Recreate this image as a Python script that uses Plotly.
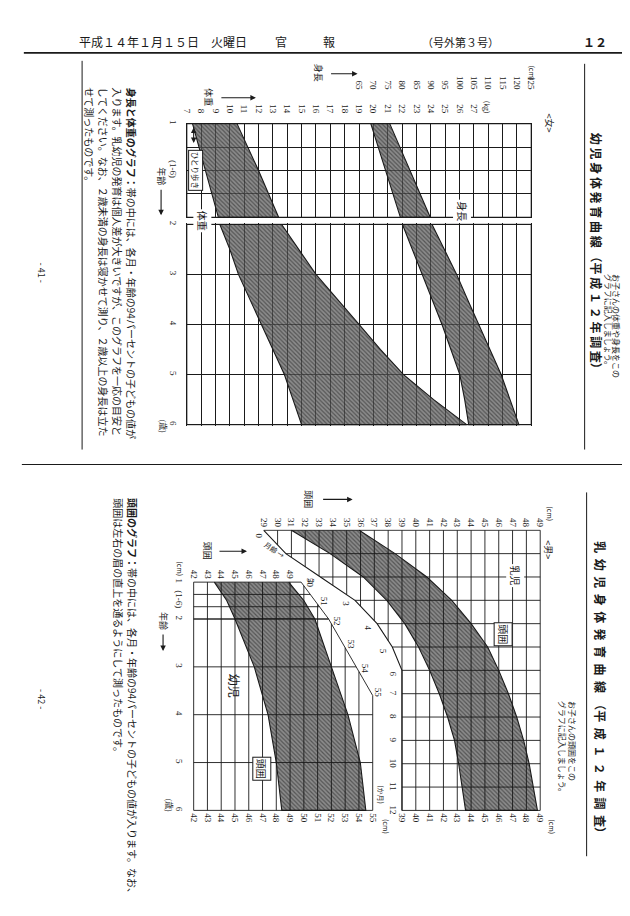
import plotly.graph_objects as go
import numpy as np

W, H = 630, 916
def fx(p): return p / W
def fy(p): return 1 - p / H
JP = "Noto Sans CJK JP"
NUM = "Liberation Serif"
INK = "#1a1a1a"

# ---------------- top chart: girls 1-6 years, weight & height ----------------
age_a = [1.0, 1.5, 2.0]                      # lying length section
wt_lo_a = [7.4, 8.3, 9.2]
wt_hi_a = [10.5, 12.0, 13.4]
ht_lo_a = [69.1, 74.3, 79.4]
ht_hi_a = [75.7, 82.8, 89.8]
age_b = [2.0, 2.5, 3.0, 3.5, 4.0, 4.5, 5.0, 5.5, 6.0]   # standing section
wt_lo_b = [9.3, 10.0, 10.6, 11.4, 12.2, 13.0, 13.8, 14.4, 15.0]
wt_hi_b = [13.6, 14.8, 16.0, 17.5, 19.0, 20.5, 22.1, 24.2, 26.5]
ht_lo_b = [80.1, 83.6, 87.0, 90.5, 93.9, 97.0, 100.1, 101.8, 103.2]
ht_hi_b = [90.4, 94.8, 99.0, 102.8, 106.6, 110.6, 114.5, 117.6, 120.7]
wt_grid = list(range(7, 32))
wt_labels = [str(v) if v <= 27 else "" for v in wt_grid]
ht_ticks = list(range(65, 126, 5))
rows_a = [1.0, 1.25, 1.5, 1.75, 2.0]
rows_a_txt = ["1", "", "(1-6)", "", ""]
rows_b = [2, 3, 4, 5, 6]

# ---------------- bottom chart: boys head circumference ----------------
inf_m = list(range(13))
inf_lo = [31.0, 33.8, 36.2, 37.9, 39.2, 40.2, 41.0, 41.7, 42.3, 42.8, 43.1, 43.35, 43.6]
inf_hi = [35.9, 38.5, 40.8, 42.6, 44.0, 45.2, 46.0, 46.7, 47.3, 47.8, 48.2, 48.5, 48.8]
inf_edge_m = [0, 1, 2, 3, 4, 5, 6, 12]
inf_edge_cm = [29.0, 30.6, 33.1, 35.6, 37.2, 38.3, 39.0, 39.0]
inf_cm_top = list(range(29, 50))
inf_cm_bottom = list(range(39, 50))
inf_month_lbl = [2, 3, 4, 5, 6, 7, 8, 9, 10, 11, 12]

tod_age_a = [1.0, 1.5, 2.0]
tod_lo_a = [43.5, 44.4, 45.0]
tod_hi_a = [48.9, 50.0, 50.8]
tod_age_b = [2.0, 3.0, 4.0, 5.0, 6.0]
tod_lo_b = [45.0, 46.4, 47.4, 48.0, 48.4]
tod_hi_b = [50.8, 52.0, 53.2, 54.1, 54.5]
tod_edge_age = [1.0, 3.6, 6.0]
tod_edge_cm = [49.8, 55.0, 55.0]
tod_rows_a = [1.0, 4 / 3, 5 / 3, 2.0]
tod_rows_b = [2, 3, 4, 5, 6]
tod_cm_top = list(range(42, 50))
tod_cm_diag = list(range(50, 56))
tod_cm_bottom = list(range(42, 56))
tod_cm_grid = list(range(42, 56))


def hdom(v0, v1, p0, s, pad):
    a, b = v0 - pad, v1 + pad
    return [a, b], [fx(p0 + (a - v0) * s), fx(p0 + (b - v0) * s)]


def vdom(v0, v1, p0, s, pad):
    a, b = v0 - pad, v1 + pad
    return [b, a], [fy(p0 + (b - v0) * s), fy(p0 + (a - v0) * s)]


FILL = "rgba(95,95,95,0.72)"
PAT = dict(shape="\\", fgcolor="#202020", bgcolor=FILL, size=3, solidity=0.4)


def band(lo, hi, ys, xa, ya):
    return go.Scatter(x=list(lo) + list(hi)[::-1], y=list(ys) + list(ys)[::-1],
                      fill="toself", fillpattern=PAT, fillcolor=FILL,
                      mode="lines", line=dict(color=INK, width=1.1), xaxis=xa, yaxis=ya,
                      hoverinfo="skip")


def segs_trace(segs, xa, ya, width=0.9):
    xs, ys = [], []
    for x0, y0, x1, y1 in segs:
        xs += [x0, x1, None]
        ys += [y0, y1, None]
    return go.Scatter(x=xs, y=ys, mode="lines", line=dict(color=INK, width=width),
                      xaxis=xa, yaxis=ya, hoverinfo="skip")


fig = go.Figure()

# ---- axes geometry ----
xr_w, xd_w = hdom(7, 31, 177, 14.54, 0.08)
xr_h = [65 + (xr_w[0] - 19) * 5, 65 + (xr_w[1] - 19) * 5]
yr_a, yd_a = vdom(1, 2, 113, 94, 0.01)
yr_b, yd_b = vdom(2, 6, 214, 50.25, 0.02)

xr_i, xd_i = hdom(29, 49, 255, 14.0, 0.1)
yr_i, yd_i = vdom(0, 12, 521, 23.42, 0.05)
xr_t, xd_t = hdom(42, 55, 184, 13.95, 0.1)
yr_ta, yd_ta = vdom(1, 2, 573, 37, 0.03)
yr_tb, yd_tb = vdom(2, 6, 610, 48, 0.02)

# ---- top bands ----
fig.add_trace(band(wt_lo_a, wt_hi_a, age_a, "x", "y"))
fig.add_trace(band(wt_lo_b, wt_hi_b, age_b, "x", "y2"))
fig.add_trace(band(ht_lo_a, ht_hi_a, age_a, "x2", "y"))
fig.add_trace(band(ht_lo_b, ht_hi_b, age_b, "x2", "y2"))

# ---- infant head band + grid ----
fig.add_trace(band(inf_lo, inf_hi, inf_m, "x3", "y3"))
ie_m = np.array(inf_edge_m[:7], float)
ie_c = np.array(inf_edge_cm[:7], float)
segs = []
for c in inf_cm_top:
    m_end = 12.0 if c >= ie_c[-1] else float(np.interp(c, ie_c, ie_m))
    if m_end > 0:
        segs.append((c, 0, c, m_end))
for m in inf_m:
    c0 = float(np.interp(m, inf_edge_m, inf_edge_cm))
    segs.append((c0, m, 49, m))
fig.add_trace(segs_trace(segs, "x3", "y3"))
fig.add_trace(go.Scatter(x=inf_edge_cm, y=inf_edge_m, mode="lines", line=dict(color=INK, width=1.1),
                         xaxis="x3", yaxis="y3", hoverinfo="skip"))
fig.add_trace(go.Scatter(x=inf_cm_bottom, y=[12] * len(inf_cm_bottom), mode="markers",
                         marker=dict(opacity=0), xaxis="x4", yaxis="y3", hoverinfo="skip"))

# ---- toddler head band + grid ----
fig.add_trace(band(tod_lo_a, tod_hi_a, tod_age_a, "x5", "y4"))
fig.add_trace(band(tod_lo_b, tod_hi_b, tod_age_b, "x5", "y5"))
te_a = np.array(tod_edge_age[:2], float)
te_c = np.array(tod_edge_cm[:2], float)
sa, sb = [], []
for c in tod_cm_grid:
    a0 = 1.0 if c <= te_c[0] else float(np.interp(c, te_c, te_a))
    if a0 < 2:
        sa.append((c, a0, c, 2))
        sb.append((c, 2, c, 6))
    else:
        sb.append((c, a0, c, 6))
for a in tod_rows_a:
    sa.append((42, a, float(np.interp(a, tod_edge_age, tod_edge_cm)), a))
for a in tod_rows_b:
    sb.append((42, a, float(np.interp(a, tod_edge_age, tod_edge_cm)), a))
c2 = float(np.interp(2, tod_edge_age, tod_edge_cm))
sa.append((tod_edge_cm[0], tod_edge_age[0], c2, 2))
sb.append((c2, 2, tod_edge_cm[1], tod_edge_age[1]))
fig.add_trace(segs_trace(sa, "x5", "y4"))
fig.add_trace(segs_trace(sb, "x5", "y5"))
fig.add_trace(go.Scatter(x=tod_cm_bottom, y=[6] * len(tod_cm_bottom), mode="markers",
                         marker=dict(opacity=0), xaxis="x6", yaxis="y5", hoverinfo="skip"))

# ---- layout axes ----
tf = dict(size=9, family=NUM, color=INK)
base = dict(zeroline=False, showline=False, ticks="", tickfont=tf, fixedrange=True)
fig.update_layout(
    xaxis=dict(base, domain=xd_w, range=xr_w, side="top", anchor="free", position=fy(104),
               tickvals=wt_grid, ticktext=wt_labels, tickangle=90, showgrid=True,
               gridcolor=INK, gridwidth=0.9),
    xaxis2=dict(base, overlaying="x", domain=xd_w, range=xr_h, side="top", anchor="free",
                position=fy(80), tickvals=ht_ticks, tickangle=90, showgrid=False),
    yaxis=dict(base, domain=yd_a, range=yr_a, anchor="x", tickvals=rows_a, ticktext=rows_a_txt,
               tickangle=90, showgrid=True, gridcolor=INK, gridwidth=0.9, ticklabelstandoff=6),
    yaxis2=dict(base, domain=yd_b, range=yr_b, anchor="x", tickvals=rows_b,
                ticktext=[str(v) for v in rows_b], tickangle=90, showgrid=True, gridcolor=INK,
                gridwidth=0.9, ticklabelstandoff=6),
    xaxis3=dict(base, domain=xd_i, range=xr_i, side="top", anchor="free", position=fy(519),
                tickvals=inf_cm_top, tickangle=90, showgrid=False),
    xaxis4=dict(base, overlaying="x3", domain=xd_i, range=xr_i, side="bottom", anchor="free",
                position=fy(804), tickvals=inf_cm_bottom, tickangle=90, showgrid=False),
    yaxis3=dict(base, domain=yd_i, range=yr_i, anchor="x3", showticklabels=False, showgrid=False),
    xaxis5=dict(base, domain=xd_t, range=xr_t, side="top", anchor="free", position=fy(571),
                tickvals=tod_cm_top, tickangle=90, showgrid=False),
    xaxis6=dict(base, overlaying="x5", domain=xd_t, range=xr_t, side="bottom", anchor="free",
                position=fy(804), tickvals=tod_cm_bottom, tickangle=90, showgrid=False),
    yaxis4=dict(base, domain=yd_ta, range=yr_ta, anchor="x5", tickvals=[1, 1.5],
                ticktext=["1", "(1-6)"], tickangle=90, showgrid=False, ticklabelstandoff=6),
    yaxis5=dict(base, domain=yd_tb, range=yr_tb, anchor="x5", tickvals=tod_rows_b,
                ticktext=[str(v) for v in tod_rows_b], tickangle=90, showgrid=False,
                ticklabelstandoff=6),
)

# ---- shapes: frames and page rules ----
shapes = [
    dict(type="rect", xref="x", yref="y", x0=7, x1=31, y0=1, y1=2, line=dict(color=INK, width=1.2)),
    dict(type="rect", xref="x", yref="y2", x0=7, x1=31, y0=2, y1=6, line=dict(color=INK, width=1.2)),
]
def pline(x0, y0, x1, y1, w=1.0):
    shapes.append(dict(type="line", xref="paper", yref="paper", x0=fx(x0), y0=fy(y0), x1=fx(x1),
                       y1=fy(y1), line=dict(color=INK, width=w)))
pline(12, 42, 621, 42, 1.6)
pline(71, 50, 71, 440)
pline(580, 53, 580, 440)
pline(10, 455, 620, 455, 1.0)
pline(582, 483, 582, 848)

# ---- annotations ----
ann = []
def txt(s, x, y, size=10, angle=90, bold=False, xa="center", ya="middle", bg=None, border=None,
        family=JP, xref="paper", yref="paper", xshift=0, yshift=0):
    d = dict(text=f"<b>{s}</b>" if bold else s, showarrow=False, textangle=angle,
             font=dict(size=size, family=family, color=INK), xanchor=xa, yanchor=ya,
             xref=xref, yref=yref, xshift=xshift, yshift=yshift)
    d["x"] = fx(x) if xref == "paper" else x
    d["y"] = fy(y) if yref == "paper" else y
    if bg:
        d["bgcolor"] = bg
    if border:
        d["bordercolor"] = border
        d["borderwidth"] = 1
        d["borderpad"] = 1
    ann.append(d)

def arrow(x0, y0, x1, y1, both=False):
    d = dict(x=fx(x1), y=fy(y1), xref="paper", yref="paper", ax=x0 - x1, ay=y0 - y1,
             showarrow=True, arrowhead=2, arrowsize=1, arrowwidth=1.1, arrowcolor=INK, text="")
    if both:
        d["arrowside"] = "end+start"
        d["startarrowhead"] = 2
    ann.append(d)

# header
txt("平成１４年１月１５日　火曜日", 153, 31, 12, 0)
txt("官", 272, 31, 12, 0)
txt("報", 321, 31, 12, 0)
txt("（号外第３号）", 454, 31, 11, 0)
txt("１２", 590, 31, 12, 0, bold=True)

# top half texts
txt("幼 児 身 体 発 育 曲 線 （平 成 １ ２ 年 調 査）", 592, 244, 12, bold=True)
txt("お子さんの体重や身長をこの", 613, 262, 8, ya="top")
txt("グラフに記入しましょう。", 605, 262, 8, ya="top")
txt("&lt;女&gt;", 544, 112, 9)
txt("(cm)", 527, 62, 7)
txt("(kg)", 481, 97, 7)
txt("身長", 310, 62, 9)
arrow(322, 63, 350, 63)
txt("体重", 199, 87, 9)
arrow(211, 87, 247, 87)
txt("年齢", 151, 166, 9)
arrow(151, 178, 151, 205)
txt("(歳)", 153, 416, 8)
txt("体重", 193, 210, 10, bg="white")
txt("身長", 456, 201, 10, bg="white")
txt("ひとり歩き", 186, 160, 7.5, bg="white", border=INK)
arrow(184, 134, 184, 117, both=True)
txt("<b>身長と体重のグラフ：</b>帯の中には、各月・年齢の94パーセントの子どもの値が", 121, 75, 10, ya="top")
txt("入ります。乳幼児の発育は個人差が大きいですが、このグラフを一応の目安と", 107, 75, 10, ya="top")
txt("してください。なお、２歳未満の身長は寝かせて測り、２歳以上の身長は立た", 93, 75, 10, ya="top")
txt("せて測ったものです。", 79, 75, 10, ya="top")
txt("- 41 -", 30, 262, 9)

# bottom half texts
txt("乳  幼  児  身  体  発  育  曲  線  （平  成  １  ２  年  調  査）", 596, 682, 12, bold=True)
txt("お子さんの頭囲をこの", 567, 690, 8, ya="top")
txt("グラフに記入しましょう。", 557, 690, 8, ya="top")
txt("&lt;男&gt;", 544, 540, 9)
txt("乳児", 510, 566, 10, bg="white")
txt("頭囲", 497, 625, 10, bg="white", border=INK)
txt("幼児", 225, 677, 12)
txt("頭囲", 253, 760, 10, bg="white", border=INK)
txt("頭囲", 300, 490, 9)
arrow(314, 490, 345, 490)
txt("頭囲", 198, 542, 9)
arrow(209, 542, 238, 542)
txt("(cm)", 545, 504, 7)
txt("(cm)", 547, 818, 7)
txt("(cm)", 378, 818, 7)
txt("(cm)", 170, 560, 7)
txt("年齢", 153, 612, 9)
arrow(153, 624, 153, 642)
txt("(歳)", 160, 797, 8)
txt("0", 250, 527, 9, family=NUM)
txt("月齢 →", 266, 541, 7, angle=34)
txt("(か月)", 373, 786, 7)
for m in inf_month_lbl:
    c = float(np.interp(m, inf_edge_m, inf_edge_cm))
    if m <= 6:
        txt(str(m), c, m, 9, family=NUM, xref="x3", yref="y3", xshift=-9, yshift=-4)
    else:
        txt(str(m), c, m, 9, family=NUM, xref="x3", yref="y3", xshift=-9)
for c in tod_cm_diag:
    a = float(np.interp(c, te_c, te_a))
    yr = "y4" if a < 2 else "y5"
    txt(str(c), c, a, 9, family=NUM, xref="x5", yref=yr, xshift=6, yshift=3)
txt("<b>頭囲のグラフ：</b>帯の中には、各月・年齢の94パーセントの子どもの値が入ります。なお、", 122, 487, 10, ya="top")
txt("頭囲は左右の眉の直上を通るようにして測ったものです。", 107, 487, 10, ya="top")
txt("- 42 -", 30, 690, 9)

fig.update_layout(width=W, height=H, margin=dict(l=0, r=0, t=0, b=0), showlegend=False,
                  paper_bgcolor="white", plot_bgcolor="rgba(0,0,0,0)",
                  font=dict(family=JP, color=INK), shapes=shapes, annotations=ann)
fig.write_html("out.html")
